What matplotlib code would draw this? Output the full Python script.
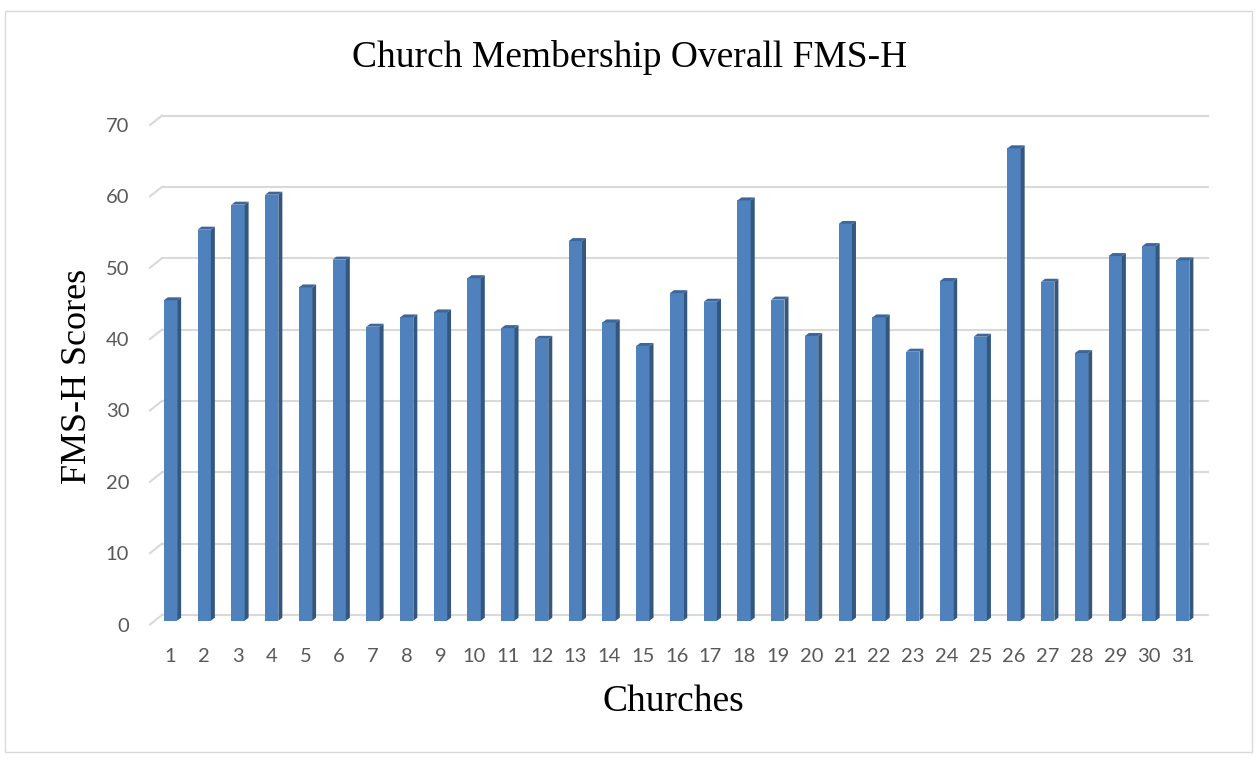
import matplotlib
matplotlib.use("Agg")
import matplotlib.pyplot as plt
from matplotlib.patches import Polygon, Rectangle
from matplotlib.transforms import ScaledTranslation, IdentityTransform
from matplotlib.lines import Line2D

# Overall FMS-H score for each church
churches = list(range(1, 32))
scores = [44.9, 54.8, 58.3, 59.7, 46.7, 50.6, 41.2, 42.5, 43.2, 48.0,
          41.0, 39.5, 53.2, 41.8, 38.5, 45.9, 44.7, 58.9, 45.0, 39.9,
          55.6, 42.5, 37.7, 47.6, 39.8, 66.2, 47.5, 37.5, 51.1, 52.5, 50.5]
y_ticks = list(range(0, 80, 10))

title = "Church Membership Overall FMS-H"
x_title = "Churches"
y_title = "FMS-H Scores"

W, H, DPI = 1259, 761, 100
fig = plt.figure(figsize=(W / DPI, H / DPI), dpi=DPI)
fig.patch.set_facecolor("white")

# front plane of the pseudo-3D plot area (pixel geometry)
left_px, right_px = 150, 1196
bottom_px, top_px = 624.5, 125
ax = fig.add_axes([left_px / W, (H - bottom_px) / H,
                   (right_px - left_px) / W, (bottom_px - top_px) / H])
ax.set_xlim(0.5, len(churches) + 0.5)
ax.set_ylim(0, 70)
for s in ax.spines.values():
    s.set_visible(False)
ax.patch.set_alpha(0)

px_x = (right_px - left_px) / len(churches)   # pixels per category
px_y = (bottom_px - top_px) / 70.0              # pixels per unit

def shift(dx, dy):
    return ax.transData + ScaledTranslation(dx / DPI, dy / DPI, fig.dpi_scale_trans)

# back wall gridlines, each joined to the front plane by a short diagonal
grid_col = "#D9D9D9"
wall_dx, wall_dy = 12, 9.5
for v in y_ticks:
    ax.add_line(Line2D([0.5, len(churches) + 0.5], [v, v], color=grid_col,
                       lw=1.5, transform=shift(wall_dx, wall_dy), zorder=1,
                       clip_on=False))
    x0, y0 = ax.transData.transform((0.5, v))
    ax.add_line(Line2D([x0, x0 + wall_dx], [y0, y0 + wall_dy], color=grid_col,
                       lw=1.5, transform=IdentityTransform(), zorder=1,
                       clip_on=False))

# columns: front face, right side, top
bar_w = 13.3 / px_x
depth_dx, depth_dy = 4.0, 3.0
ddx = depth_dx / px_x
ddy = depth_dy / px_y
front_col, side_col, top_col = "#4F81BD", "#34577F", "#3D679A"
bar_tr = shift(3.6, 3.8)
ax.bar(churches, scores, width=bar_w, color=front_col, edgecolor="none",
       transform=bar_tr, zorder=3, clip_on=False)
for x, v in zip(churches, scores):
    xl, xr = x - bar_w / 2, x + bar_w / 2
    side = Polygon([(xr, 0), (xr, v), (xr + ddx, v + ddy), (xr + ddx, ddy)],
                   closed=True, facecolor=side_col, edgecolor="none",
                   transform=bar_tr, zorder=3, clip_on=False)
    top = Polygon([(xl, v), (xr, v), (xr + ddx, v + ddy), (xl + ddx, v + ddy)],
                  closed=True, facecolor=top_col, edgecolor="none",
                  transform=bar_tr, zorder=3, clip_on=False)
    ax.add_patch(side)
    ax.add_patch(top)

# tick labels
tick_col = "#595959"
ax.set_yticks(y_ticks)
ax.set_yticklabels([str(t) for t in y_ticks])
ax.set_xticks(churches)
ax.set_xticklabels([str(c) for c in churches])
ax.tick_params(axis="both", length=0, labelsize=14.5, labelcolor=tick_col)
ax.tick_params(axis="y", pad=15)
ax.tick_params(axis="x", pad=17)
for lab in ax.get_yticklabels() + ax.get_xticklabels():
    lab.set_fontfamily("Lato")
for lab in ax.get_xticklabels():
    lab.set_transform(lab.get_transform() + ScaledTranslation(3.6 / DPI, 0, fig.dpi_scale_trans))

serif = "Liberation Serif"
fig.text(630 / W, (H - 66.7) / H, title, ha="center", va="baseline",
         fontsize=27, family=serif, color="black")
fig.text(673 / W, (H - 711) / H, x_title, ha="center", va="baseline",
         fontsize=27, family=serif, color="black")
fig.text(78 / W, (H - 376) / H, y_title, ha="center", va="center", rotation=90,
         fontsize=26, family=serif, color="black")

# chart border
fig.patches.append(Rectangle((5 / W, (H - 752) / H), 1247 / W, 741 / H,
                             transform=fig.transFigure, fill=False,
                             edgecolor="#D9D9D9", lw=1.0))

fig.savefig("out.png", dpi=DPI)
